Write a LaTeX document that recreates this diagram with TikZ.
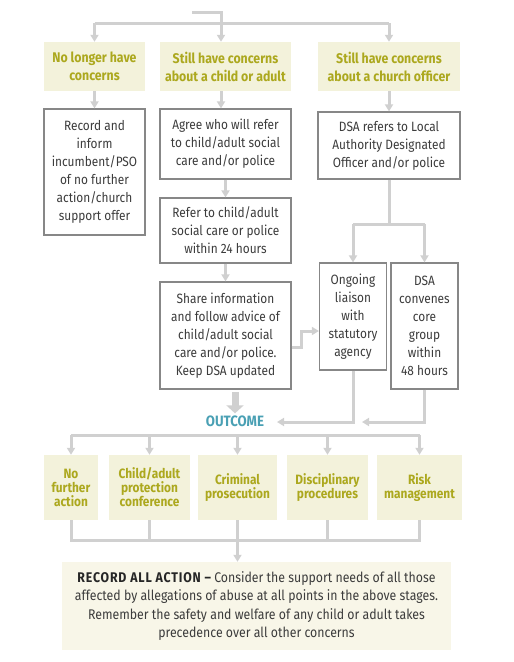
\documentclass[tikz,border=0pt]{standalone}
\usepackage{fontspec}
\setmainfont{Fira Sans}[FakeStretch=0.88]
\usetikzlibrary{arrows.meta}
\definecolor{fillY}{RGB}{243,242,219}
\definecolor{txtY}{RGB}{172,168,30}
\definecolor{lineG}{RGB}{208,208,208}
\definecolor{boxB}{RGB}{135,135,135}
\definecolor{txtD}{RGB}{60,60,60}
\definecolor{outc}{RGB}{74,160,180}
\definecolor{fillF}{RGB}{248,246,232}
\begin{document}
\begin{tikzpicture}[x=1pt,y=-1pt,
 ybox/.style={fill=fillY, text=txtY, font=\bfseries\fontsize{14}{18}\selectfont, align=center, inner sep=0pt},
 obox/.style={fill=fillY, text=txtY, font=\bfseries\fontsize{13.5}{14}\selectfont, align=center, inner sep=0pt, minimum height=65pt},
 wbox/.style={draw=boxB, line width=1.2pt, fill=white, text=txtD, font=\fontsize{13.5}{18}\selectfont, align=center, inner sep=0pt},
 conn/.style={draw=lineG, line width=3pt},
 arr/.style={conn, -{Triangle[width=8pt,length=7pt]}},
 bigarr/.style={draw=lineG, line width=7pt, -{Triangle[width=17pt,length=8pt]}},
]
\useasboundingbox (0,0) rectangle (514,662);
% top row
\node[ybox, minimum width=101pt, minimum height=49pt] (t1) at (94.5,66.5) {No longer have\\concerns};
\node[ybox, minimum width=131pt, minimum height=49pt] (t2) at (225.5,66.5) {Still have concerns\\about a child or adult};
\node[ybox, minimum width=142pt, minimum height=49pt] (t3) at (389,66.5) {Still have concerns\\about a church officer};
% second row
\node[wbox, minimum width=101pt, minimum height=126pt] (rec) at (94.5,172) {Record and\\inform\\incumbent/PSO\\of no further\\action/church\\support offer};
\node[wbox, minimum width=131pt, minimum height=70pt] (agr) at (225.5,144) {Agree who will refer\\to child/adult social\\care and/or police};
\node[wbox, minimum width=142pt, minimum height=67pt] (dsa) at (389,145.5) {DSA refers to Local\\Authority Designated\\Officer and/or police};
\node[wbox, minimum width=131pt, minimum height=65pt] (ref) at (225.5,230.5) {Refer to child/adult\\social care or police\\within 24 hours};
\node[wbox, minimum width=131pt, minimum height=107pt] (sha) at (225.5,335.5) {Share information\\and follow advice of\\child/adult social\\care and/or police.\\Keep DSA updated};
\node[wbox, minimum width=67pt, minimum height=107pt] (ong) at (353,316.5) {Ongoing\\liaison\\with\\statutory\\agency};
\node[wbox, minimum width=67pt, minimum height=126pt] (conv) at (424.5,326) {DSA\\convenes\\core\\group\\within\\48 hours};
% outcome
\node[text=outc, font=\bfseries\fontsize{15}{16}\selectfont, inner sep=2pt] (out) at (235,421) {OUTCOME};
% outcome boxes
\node[obox, minimum width=54pt] (b1) at (71,487.5) {No\\further\\action};
\node[obox, minimum width=81pt] (b2) at (149.5,487.5) {Child/adult\\protection\\conference};
\node[obox, minimum width=79pt] (b3) at (237.5,487.5) {Criminal\\prosecution};
\node[obox, minimum width=81pt] (b4) at (327.5,487.5) {Disciplinary\\procedures};
\node[obox, minimum width=85pt] (b5) at (419.5,487.5) {Risk\\management};
% final box
\node[fill=fillF, text=txtD, font=\fontsize{14}{18.3}\selectfont, align=center, inner sep=0pt, minimum width=389pt, minimum height=88pt] (fin) at (256.5,606) {{\color{black!85}\bfseries\addfontfeatures{LetterSpace=6}RECORD ALL ACTION –} Consider the support needs of all those\\affected by allegations of abuse at all points in the above stages.\\Remember the safety and welfare of any child or adult takes\\precedence over all other concerns};
% connectors
\coordinate (top0) at (192,12);
\coordinate (top1) at (221,23);
\draw[conn] (top0) -| (top1);
\draw[conn] (t1.north |- top1) -- (t3.north |- top1);
\draw[arr] (t1.north |- top1) -- (t1.north);
\draw[arr] (top1) -- (top1 |- t2.north);
\draw[arr] (t3.north |- top1) -- (t3.north);
\draw[arr] (t1.south) -- (rec.north);
\draw[arr] (top1 |- t2.south) -- (top1 |- agr.north);
\draw[arr] (t3.south) -- (dsa.north);
\draw[arr] (agr.south) -- (ref.north);
\draw[arr] (ref.south) -- (sha.north);
\coordinate (split) at (389,224);
\draw[conn] (dsa.south) -- (split);
\draw[conn] (ong.north |- split) -- (conv.north |- split);
\draw[arr] (ong.north |- split) -- (ong.north);
\draw[arr] (conv.north |- split) -- (conv.north);
\draw[arr] ([yshift=-11.5pt]sha.east) -- ++(10,0) |- ([yshift=-14.5pt]ong.west);
\coordinate (ba) at (235,392);
\draw[bigarr] (ba) -- (out.north);
\coordinate (oc1) at (277,422);
\coordinate (oc2) at (362,422);
\draw[arr] (ong.south) |- (oc1);
\draw[arr] (conv.south) |- (oc2);
\coordinate (od) at (0,435);
\draw[conn] (b1.north |- od) -- (b5.north |- od);
\foreach \b in {b1,b2,b3,b4,b5} {\draw[arr] (\b.north |- od) -- (\b.north);}
\coordinate (bj) at (0,540);
\draw[conn] (b1.south) |- (b5.south |- bj) -- (b5.south);
\foreach \b in {b2,b3,b4} {\draw[conn] (\b.south) -- (\b.south |- bj);}
\draw[arr] (b3.south |- bj) -- (b3.south |- fin.north);
\end{tikzpicture}
\end{document}
